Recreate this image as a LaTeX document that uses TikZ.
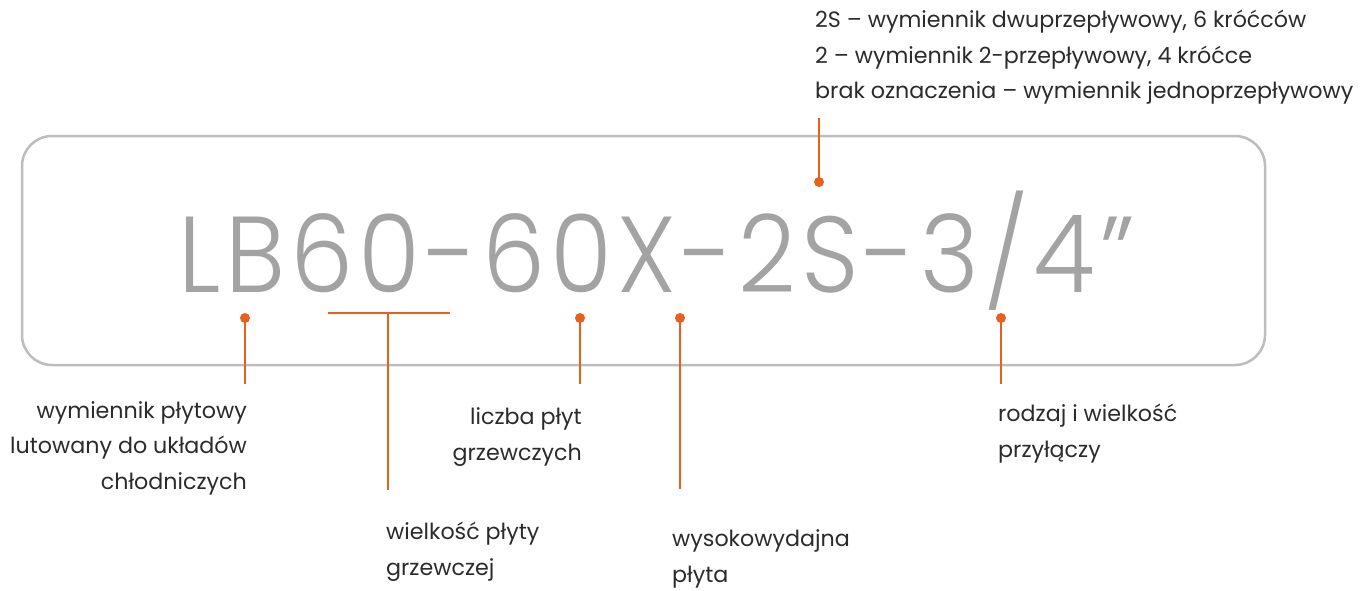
\documentclass[tikz,border=0pt]{standalone}
\usepackage{fontspec}
\setmainfont{Poppins}
\newfontfamily\bigfont[LetterSpace=5]{Poppins Light}
\definecolor{org}{HTML}{E8601C}
\definecolor{framec}{HTML}{BDBDBD}
\definecolor{txt}{HTML}{2B2B2B}
\definecolor{bigc}{HTML}{A3A3A3}
\begin{document}
\begin{tikzpicture}[x=1pt,y=-1pt,
  lbl/.style={inner sep=0pt, text=txt, font=\fontsize{22.2}{35.5}\selectfont},
  dotn/.style={circle, fill=org, inner sep=0pt, minimum size=10pt},
  lead/.style={draw=org, line width=2.5pt}]
\useasboundingbox (0,0) rectangle (1367,591);
\fill[white] (0,0) rectangle (1367,591);
\draw[framec, line width=2.5pt, rounded corners=30pt] (22,136) rectangle (1265,365);
\node[anchor=base west, inner sep=0pt, text=bigc, font=\bigfont\fontsize{108}{108}\selectfont] (code) at (178,292) {\scalebox{0.93}[1]{LB60-60X-2S-3/4”}};
% top annotation
\node[lbl, anchor=base west, align=left] (ltop) at (815,99) {2S – wymiennik dwuprzepływowy, 6 króćców\\2 – wymiennik 2-przepływowy, 4 króćce\\brak oznaczenia – wymiennik jednoprzepływowy};
\node[dotn] (dtop) at (819,182) {};
\coordinate (etop) at (819,118);
\draw[lead] (dtop.center) -- (etop);
% bottom dots
\node[dotn] (d1) at (245,318) {};
\node[dotn] (d3) at (580,318) {};
\node[dotn] (d4) at (680,318) {};
\node[dotn] (d5) at (1001,318) {};
\coordinate (e1) at (245,384);
\coordinate (e3) at (580,384);
\coordinate (e4) at (680,489);
\coordinate (e5) at (1001,384);
\draw[lead] (d1.center) -- (e1);
\draw[lead] (d3.center) -- (e3);
\draw[lead] (d4.center) -- (e4);
\draw[lead] (d5.center) -- (e5);
% underline bracket
\coordinate (u1) at (328,313);
\coordinate (u2) at (450,313);
\coordinate (um) at (388,313);
\coordinate (e2) at (388,490);
\draw[lead] (u1) -- (u2);
\draw[lead] (um) -- (e2);
% labels
\node[lbl, anchor=base east, align=right] (l1) at (247,489) {wymiennik płytowy\\lutowany do układów\\chłodniczych};
\node[lbl, anchor=base east, align=right] (l3) at (582,460) {liczba płyt\\grzewczych};
\node[lbl, anchor=base west, align=left] (l2) at (386,575) {wielkość płyty\\grzewczej};
\node[lbl, anchor=base west, align=left] (l4) at (672,582) {wysokowydajna\\płyta};
\node[lbl, anchor=base west, align=left] (l5) at (998,457) {rodzaj i wielkość\\przyłączy};
\end{tikzpicture}
\end{document}
